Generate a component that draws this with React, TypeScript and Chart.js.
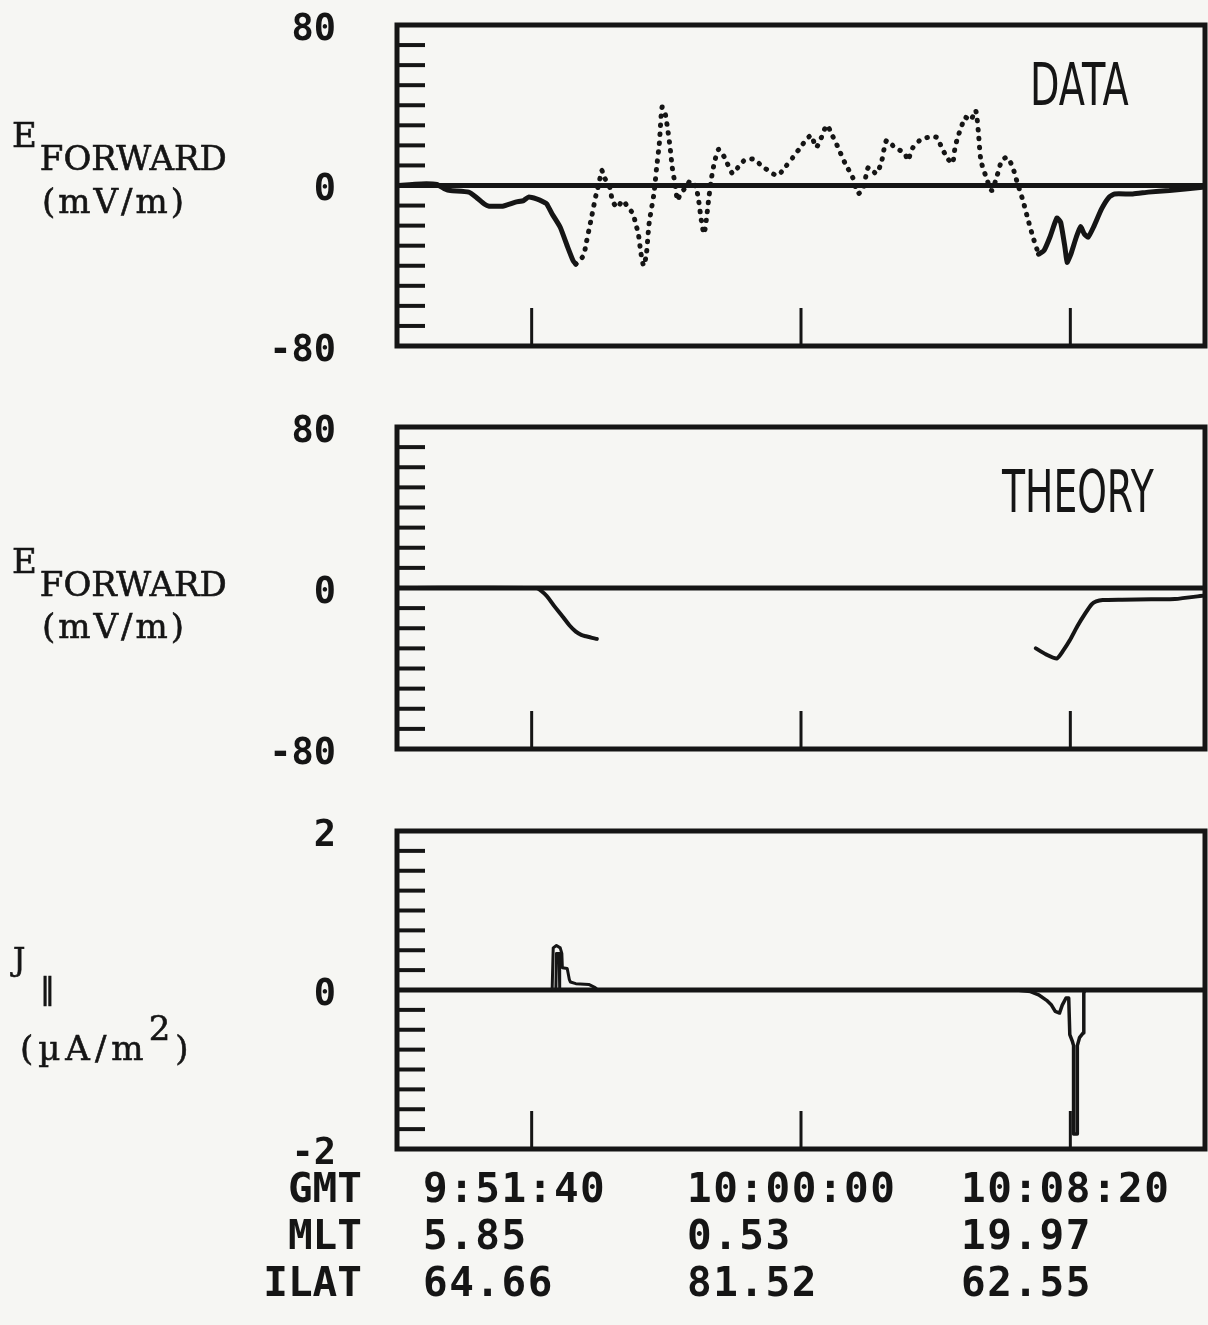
import React, { useEffect, useRef } from 'react';
import { Chart, registerables } from 'chart.js';

Chart.register(...registerables);

// ---------- axes / labels ----------
// time axis: seconds after 9:51:40 GMT
const TIME_MIN = -250;
const TIME_MAX = 1250;
const TIME_TICKS = [0, 500, 1000];
const ROW_NAMES = ['GMT', 'MLT', 'ILAT'];
const GMT_LABELS = ['9:51:40', '10:00:00', '10:08:20'];
const MLT_LABELS = ['5.85', '0.53', '19.97'];
const ILAT_LABELS = ['64.66', '81.52', '62.55'];

const E_TICKS = [-80, 0, 80];
const E_TICK_LABELS = ['-80', '0', '80'];
const E_MINOR_TICKS = [-70, -60, -50, -40, -30, -20, -10, 10, 20, 30, 40, 50, 60, 70];
const J_TICKS = [-2, 0, 2];
const J_TICK_LABELS = ['-2', '0', '2'];
const J_MINOR_TICKS = [-1.75, -1.5, -1.25, -1, -0.75, -0.5, -0.25, 0.25, 0.5, 0.75, 1, 1.25, 1.5, 1.75];

// ---------- DATA panel (E forward, mV/m) ----------
const DATA_SOLID_L_T = [-250, -205, -176, -161, -151, -117, -103, -88, -79, -54, -30, -15, -6, 9, 23, 28, 38, 53, 67, 77, 82];
const DATA_SOLID_L_V = [0, 0.8, 0.5, -1.7, -2.5, -3.3, -5.8, -9.2, -10.3, -10.3, -8.3, -7.5, -5.8, -6.7, -8.3, -9.2, -14.2, -20.8, -30.8, -37.5, -39.2];

const DATA_DOT_T = [82, 96, 101, 111, 120, 125, 130, 135, 145, 150, 159, 169, 179, 188, 193, 198, 203, 208, 213, 218, 227, 232, 237, 242, 247, 252, 257, 261, 266, 271, 276, 286, 295, 305, 310, 315, 320, 324, 329, 334, 339, 347, 358, 373, 383, 397, 412, 431, 456, 470, 485, 499, 509, 519, 528, 538, 548, 558, 567, 582, 596, 606, 616, 625, 640, 650, 659, 674, 684, 693, 698, 708, 723, 737, 752, 761, 771, 781, 786, 791, 800, 805, 815, 824, 829, 834, 844, 854, 863, 873, 883, 893, 902, 912, 922, 931, 941];
const DATA_DOT_V = [-39.2, -35, -29, -16, -4, 1, 7.5, 4, -1, -7.5, -11, -7.5, -11, -14, -19, -24, -34, -40, -34, -19, -4, 9, 21, 39, 37, 29, 19, 9, 1, -7.5, -4, -1, 2.5, -1, -7.5, -17.5, -24, -17.5, -6, 4, 11, 18, 14, 6, 9, 13, 13, 9, 5, 9, 14, 19, 22.5, 25, 19, 24, 30, 25, 20, 11, 4, -4, -1, 9, 6, 12.5, 22.5, 19, 17.5, 16, 12.5, 19, 23, 24, 24, 19, 14, 11, 19, 24, 31, 34, 32.5, 37.5, 27.5, 12.5, 4, -2.5, 4, 12.5, 14, 9, 1, -7.5, -17.5, -26, -34.2];

const DATA_SOLID_R_T = [941, 951, 962, 975, 982, 990, 994, 1001, 1011, 1019, 1026, 1033, 1043, 1058, 1072, 1082, 1116, 1145, 1184, 1213, 1250];
const DATA_SOLID_R_V = [-34.2, -32.5, -25.8, -16.2, -18.3, -30.8, -38.3, -34.2, -25.8, -20.5, -24.2, -25.8, -20.8, -11.7, -5.8, -4.2, -4.2, -3.3, -2.5, -1.7, -0.8];

// ---------- THEORY panel ----------
const THEORY_L_T = [-250, 9, 18, 28, 42, 57, 70, 82, 92, 101, 112, 121];
const THEORY_L_V = [0, 0, -1.5, -4, -9, -14, -18.5, -21.7, -23.3, -24, -24.8, -25.3];
const THEORY_R_T = [936, 955, 975, 987, 999, 1013, 1028, 1040, 1048, 1060, 1096, 1150, 1194, 1250];
const THEORY_R_V = [-30, -33, -35, -31, -26, -19, -12.5, -8, -6.7, -6, -5.8, -5.6, -5.5, -3.7];

// ---------- J parallel panel (uA/m^2) ----------
const J_LEFT_T = [-250, 38, 40, 46, 53, 56, 57, 66, 70, 72, 82, 106, 118, 123];
const J_LEFT_V = [0, 0, 0.53, 0.56, 0.53, 0.46, 0.28, 0.27, 0.13, 0.1, 0.08, 0.07, 0.03, 0];
const J_LEFT_INNER_T = [45, 46, 51, 52];
const J_LEFT_INNER_V = [0.02, 0.46, 0.46, 0.02];
const J_RIGHT_T = [900, 926, 941, 956, 965, 972, 980, 985, 992, 997, 999, 1004, 1006, 1006, 1013, 1013, 1017, 1024, 1025, 1027, 1250];
const J_RIGHT_V = [0, -0.02, -0.06, -0.13, -0.19, -0.27, -0.29, -0.19, -0.1, -0.1, -0.56, -0.65, -0.7, -1.81, -1.81, -0.7, -0.6, -0.54, -0.04, 0, 0];

const INK = '#151515';
const PAPER = '#f6f6f3';

const pts = (t: number[], v: number[]) => t.map((x, i) => ({ x, y: v[i] }));

const framePlugin = (minor: number[]) => ({
  id: 'frame',
  beforeDatasetsDraw(chart: any) {
    const { ctx, chartArea: a, scales } = chart;
    const x = scales.x;
    const y = scales.y;
    ctx.save();
    ctx.strokeStyle = INK;
    ctx.lineCap = 'butt';
    ctx.lineWidth = 5;
    const y0 = y.getPixelForValue(0);
    ctx.beginPath();
    ctx.moveTo(a.left, y0);
    ctx.lineTo(a.right, y0);
    ctx.stroke();
    ctx.lineWidth = 4;
    for (const v of minor) {
      const py = y.getPixelForValue(v);
      ctx.beginPath();
      ctx.moveTo(a.left, py);
      ctx.lineTo(a.left + 28, py);
      ctx.stroke();
    }
    ctx.lineWidth = 3;
    for (const t of TIME_TICKS) {
      const px = x.getPixelForValue(t);
      ctx.beginPath();
      ctx.moveTo(px, a.bottom);
      ctx.lineTo(px, a.bottom - 38);
      ctx.stroke();
    }
    ctx.restore();
  },
  afterDatasetsDraw(chart: any) {
    const { ctx, chartArea: a } = chart;
    ctx.save();
    ctx.strokeStyle = INK;
    ctx.lineWidth = 5;
    ctx.strokeRect(a.left, a.top, a.right - a.left, a.bottom - a.top);
    ctx.restore();
  },
});

function makeChart(
  canvas: HTMLCanvasElement,
  datasets: any[],
  ymin: number,
  ymax: number,
  ticks: number[],
  tickLabels: string[],
  minor: number[],
  padTop: number,
  padBottom: number
) {
  return new Chart(canvas, {
    type: 'line',
    data: { datasets },
    options: {
      responsive: false,
      animation: false,
      devicePixelRatio: 1,
      layout: { padding: { left: 197, right: 3, top: padTop, bottom: padBottom } },
      elements: { point: { radius: 0 } },
      plugins: { legend: { display: false }, tooltip: { enabled: false } },
      scales: {
        x: { type: 'linear', min: TIME_MIN, max: TIME_MAX, display: false },
        y: {
          type: 'linear',
          min: ymin,
          max: ymax,
          afterFit: (s: any) => {
            s.width = 200;
          },
          afterBuildTicks: (s: any) => {
            s.ticks = ticks.map((value) => ({ value }));
          },
          grid: { display: true, drawOnChartArea: false, drawTicks: true, tickLength: 61, color: 'rgba(0,0,0,0)' },
          border: { display: false },
          ticks: {
            padding: 0,
            labelOffset: 5,
            color: INK,
            font: { family: '"DejaVu Sans Mono", monospace', weight: 'bold', size: 37 },
            callback: (value: any) => {
              const i = ticks.indexOf(Number(value));
              return i >= 0 ? tickLabels[i] : '';
            },
          },
        },
      },
    },
    plugins: [framePlugin(minor)],
  } as any);
}

const solid = (data: any[], w = 5) => ({
  data,
  borderColor: INK,
  borderWidth: w,
  tension: 0.15,
  borderJoinStyle: 'round',
  borderCapStyle: 'round',
  fill: false,
});

export default function App() {
  const c1 = useRef<HTMLCanvasElement>(null);
  const c2 = useRef<HTMLCanvasElement>(null);
  const c3 = useRef<HTMLCanvasElement>(null);

  useEffect(() => {
    const charts: Chart[] = [];
    charts.push(
      makeChart(
        c1.current!,
        [
          solid(pts(DATA_SOLID_L_T, DATA_SOLID_L_V)),
          {
            ...solid(pts(DATA_DOT_T, DATA_DOT_V)),
            borderDash: [0.5, 8.5],
            tension: 0.25,
          },
          solid(pts(DATA_SOLID_R_T, DATA_SOLID_R_V)),
        ],
        -80, 80, E_TICKS, E_TICK_LABELS, E_MINOR_TICKS, 25, 34
      )
    );
    charts.push(
      makeChart(
        c2.current!,
        [
          { ...solid(pts(THEORY_L_T, THEORY_L_V), 4), tension: 0.3 },
          { ...solid(pts(THEORY_R_T, THEORY_R_V), 4), tension: 0.2 },
        ],
        -80, 80, E_TICKS, E_TICK_LABELS, E_MINOR_TICKS, 27, 31
      )
    );
    charts.push(
      makeChart(
        c3.current!,
        [
          { ...solid(pts(J_LEFT_T, J_LEFT_V), 3), tension: 0 },
          { ...solid(pts(J_LEFT_INNER_T, J_LEFT_INNER_V), 3), tension: 0 },
          { ...solid(pts(J_RIGHT_T, J_RIGHT_V), 3.5), tension: 0 },
        ],
        -2, 2, J_TICKS, J_TICK_LABELS, J_MINOR_TICKS, 31, 31
      )
    );
    return () => charts.forEach((c) => c.destroy());
  }, []);

  const serif = '"DejaVu Serif", "Liberation Serif", serif';
  const mono = '"DejaVu Sans Mono", monospace';
  const abs = (left: number, top: number, extra: any = {}) => ({
    position: 'absolute' as const,
    left,
    top,
    whiteSpace: 'nowrap' as const,
    color: INK,
    ...extra,
  });
  const serifStyle = (size: number, extra: any = {}) => ({
    font: `${size}px ${serif}`,
    lineHeight: `${size}px`,
    WebkitTextStroke: '0.6px #151515',
    ...extra,
  });

  const rowTops = [1168, 1215, 1262];
  const colLefts = [423, 687, 961];
  const rows = [GMT_LABELS, MLT_LABELS, ILAT_LABELS];

  return (
    <div style={{ position: 'absolute', left: 0, top: 0, width: 1208, height: 1325, background: PAPER, overflow: 'hidden' }}>
      <canvas ref={c1} width={1208} height={380} style={{ position: 'absolute', left: 0, top: 0 }} />
      <canvas ref={c2} width={1208} height={380} style={{ position: 'absolute', left: 0, top: 400 }} />
      <canvas ref={c3} width={1208} height={380} style={{ position: 'absolute', left: 0, top: 800 }} />

      {/* panel 1 left label */}
      <div style={abs(12, 118, serifStyle(34))}>
        E<span style={{ position: 'relative', top: 23, marginLeft: 3 }}>FORWARD</span>
      </div>
      <div style={abs(42, 184, serifStyle(34, { letterSpacing: 3 }))}>(mV/m)</div>

      {/* panel 2 left label */}
      <div style={abs(12, 544, serifStyle(34))}>
        E<span style={{ position: 'relative', top: 23, marginLeft: 3 }}>FORWARD</span>
      </div>
      <div style={abs(42, 609, serifStyle(34, { letterSpacing: 3 }))}>(mV/m)</div>

      {/* panel 3 left label */}
      <div style={abs(13, 944, serifStyle(31))}>J</div>
      <div style={abs(40, 974, serifStyle(30))}>‖</div>
      <div style={abs(20, 1031, serifStyle(34, { letterSpacing: 5 }))}>
        (µA/m<span style={{ position: 'relative', top: -20 }}>2</span>)
      </div>

      {/* panel titles */}
      <div style={abs(1030, 56, { font: `58px "DejaVu Sans", sans-serif`, lineHeight: '58px', transform: 'scaleX(0.66)', transformOrigin: 'left top' })}>DATA</div>
      <div style={abs(1002, 463, { font: `58px "DejaVu Sans", sans-serif`, lineHeight: '58px', transform: 'scaleX(0.65)', transformOrigin: 'left top' })}>THEORY</div>

      {/* bottom rows */}
      {ROW_NAMES.map((name, r) => (
        <div key={name} style={abs(0, rowTops[r], { width: 362, textAlign: 'right', font: `bold 41px ${mono}`, lineHeight: '41px' })}>{name}</div>
      ))}
      {rows.map((labels, r) =>
        labels.map((txt, c) => (
          <div key={`${r}-${c}`} style={abs(colLefts[c], rowTops[r], { font: `bold 41px ${mono}`, lineHeight: '41px', letterSpacing: 1.5 })}>{txt}</div>
        ))
      )}
    </div>
  );
}
